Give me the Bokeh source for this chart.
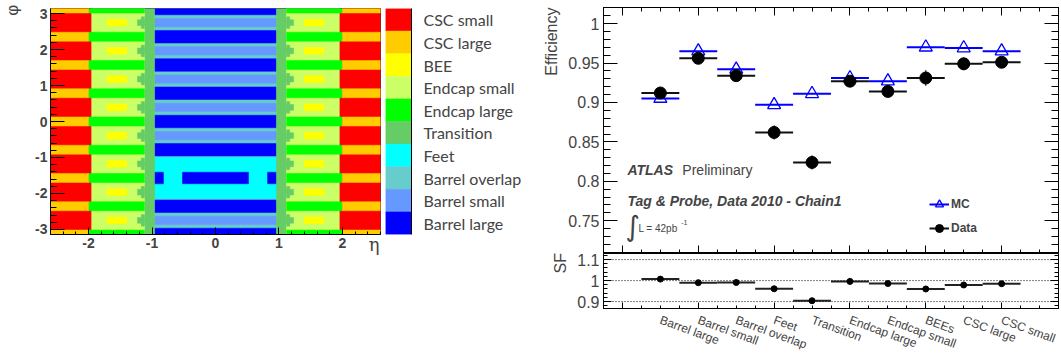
import numpy as np
from bokeh.plotting import figure
from bokeh.layouts import row, column
from bokeh.models import (ColumnDataSource, FixedTicker, LinearAxis, Range1d, Label,
                          Legend, LegendItem, Span)
from bokeh.embed import file_html
from bokeh.resources import INLINE

FONT = "Liberation Sans"
PI = np.pi
NBSP = "\u00a0"
THIN = "\u2009"
HAS_LABEL_ALIGN = "axis_label_align" in LinearAxis.properties()

# ---------------------------------------------------------------- region map
region_names = ["CSC small", "CSC large", "BEE", "Endcap small", "Endcap large",
                "Transition", "Feet", "Barrel overlap", "Barrel small", "Barrel large"]
region_colors = ["#ff0000", "#ffcc00", "#ffff00", "#ccff66", "#00ff00",
                 "#66cc66", "#00ffff", "#66cccc", "#6699ff", "#0000ff"]
col = dict(zip(region_names, region_colors))

# eta boundaries of the regions (symmetric in eta)
eta_max = 2.6
barrel_edge = 0.96
transition_edge = 1.12
transition_steps = [1.17, 1.23]
transition_step_half = [0.16, 0.08]
endcap_small_edge = 1.96
endcap_large_edge = 2.0
bee_eta = [1.40, 1.71]
feet_gap_eta = [0.52, 0.82]

# phi layout: 8 large sectors at k*pi/4, 8 small sectors in between
large_centres = np.arange(-4, 5) * PI / 4
small_centres = np.arange(-4, 4) * PI / 4 + PI / 8
barrel_large_half = 0.175
barrel_small_half = 0.115
endcap_large_half = 0.125
bee_half = 0.093
feet_centre = -PI / 2
feet_half = 0.57
feet_large_half = 0.16

quads = {"left": [], "right": [], "bottom": [], "top": [], "color": []}


def add(l, r, b, t, name, mirror=True):
    for s in ((1, -1) if mirror else (1,)):
        lo, hi = sorted((s * l, s * r))
        quads["left"].append(lo)
        quads["right"].append(hi)
        quads["bottom"].append(b)
        quads["top"].append(t)
        quads["color"].append(col[name])


# barrel
add(-barrel_edge, barrel_edge, -PI, PI, "Barrel overlap", mirror=False)
for c in large_centres:
    add(-barrel_edge, barrel_edge, c - barrel_large_half, c + barrel_large_half, "Barrel large", mirror=False)
for c in small_centres:
    add(-barrel_edge, barrel_edge, c - barrel_small_half, c + barrel_small_half, "Barrel small", mirror=False)
add(-barrel_edge, barrel_edge, feet_centre - feet_half, feet_centre + feet_half, "Feet", mirror=False)
add(-barrel_edge, -feet_gap_eta[1], feet_centre - feet_large_half, feet_centre + feet_large_half, "Barrel large")
add(-feet_gap_eta[0], feet_gap_eta[0], feet_centre - feet_large_half, feet_centre + feet_large_half,
    "Barrel large", mirror=False)

# transition, endcap, CSC
add(barrel_edge, transition_edge, -PI, PI, "Transition")
add(transition_edge, endcap_small_edge, -PI, PI, "Endcap small")
add(endcap_small_edge, eta_max, -PI, PI, "CSC small")
for c in large_centres:
    add(transition_edge, endcap_large_edge, c - endcap_large_half, c + endcap_large_half, "Endcap large")
    add(endcap_large_edge, eta_max, c - endcap_large_half, c + endcap_large_half, "CSC large")
for c in small_centres:
    add(bee_eta[0], bee_eta[1], c - bee_half, c + bee_half, "BEE")
    for edge, half in zip(transition_steps, transition_step_half):
        add(transition_edge, edge, c - half, c + half, "Transition")

heat = figure(width=385, height=361, x_range=Range1d(-eta_max, eta_max), y_range=Range1d(-PI, PI),
              output_backend="svg", toolbar_location=None,
              min_border_left=45, min_border_right=5, min_border_top=7, min_border_bottom=127)
heat.grid.visible = False
heat.outline_line_color = "#444444"
heat.quad(left="left", right="right", bottom="bottom", top="top", fill_color="color",
          line_color="color", line_width=0.5, source=ColumnDataSource(quads))


def inner_ticks(axis, major, minor):
    axis.major_tick_in = major
    axis.major_tick_out = 0
    axis.minor_tick_in = minor
    axis.minor_tick_out = 0
    axis.axis_line_color = "black"
    axis.major_tick_line_color = "black"
    axis.minor_tick_line_color = "black"


def no_labels(axis):
    axis.major_label_text_color = None
    axis.major_label_standoff = 0


def axis_title(axis, text, standoff, font=FONT, size="16px"):
    axis.axis_label = text
    axis.axis_label_standoff = standoff
    axis.axis_label_text_font = font
    axis.axis_label_text_font_size = size
    axis.axis_label_text_font_style = "normal"


eta_ticks = [-2, -1, 0, 1, 2]
phi_ticks = [-3, -2, -1, 0, 1, 2, 3]
hx = heat.xaxis[0]
hx.ticker = FixedTicker(ticks=eta_ticks, minor_ticks=[round(v, 1) for v in np.arange(-2.6, 2.61, 0.2)])
hx.major_label_overrides = {t: str(t) for t in eta_ticks}
inner_ticks(hx, 7, 3)
hy = heat.yaxis[0]
hy.ticker = FixedTicker(ticks=phi_ticks, minor_ticks=[round(v, 1) for v in np.arange(-3.0, 3.01, 0.2)])
hy.major_label_overrides = {t: str(t) for t in phi_ticks}
inner_ticks(hy, 14, 6)
for ax in (hx, hy):
    ax.major_label_text_font = FONT
    ax.major_label_text_font_size = "14px"
    ax.major_label_text_font_style = "bold"
    ax.major_label_standoff = 3
# phi title at the top end of the axis
axis_title(hy, "\u03c6" + THIN, 10, size="17px")
if HAS_LABEL_ALIGN:
    hy.axis_label_align = "end"

# eta title sits on the tick-label line, at the right end of the axis
eta_title = LinearAxis(ticker=FixedTicker(ticks=[2.5], minor_ticks=[]))
eta_title.major_label_overrides = {2.5: "\u03b7"}
eta_title.major_tick_in = 0
eta_title.major_tick_out = 0
eta_title.axis_line_color = None
eta_title.major_label_standoff = -17
eta_title.major_label_text_font = "DejaVu Serif"
eta_title.major_label_text_font_size = "18px"
heat.add_layout(eta_title, "below")

# ---------------------------------------------------------------- colour key
n_reg = len(region_names)
cbar = figure(width=155, height=361, x_range=Range1d(0, 1), y_range=Range1d(0, n_reg),
              x_axis_location=None, y_axis_location="right",
              output_backend="svg", toolbar_location=None,
              min_border_left=0, min_border_right=129, min_border_top=8, min_border_bottom=126)
cbar.grid.visible = False
cbar.outline_line_color = None
key_src = ColumnDataSource(dict(bottom=[n_reg - 1 - i for i in range(n_reg)],
                                top=[n_reg - i for i in range(n_reg)],
                                color=region_colors))
cbar.quad(left=0, right=1, bottom="bottom", top="top", fill_color="color", line_color="color",
          line_width=0.5, source=key_src)
ky = cbar.yaxis[0]
ky.ticker = FixedTicker(ticks=[n_reg - 0.5 - i for i in range(n_reg)], minor_ticks=[])
ky.major_label_overrides = {n_reg - 0.5 - i: name for i, name in enumerate(region_names)}
ky.major_tick_in = 0
ky.major_tick_out = 0
ky.major_label_standoff = 12
ky.major_label_text_font = "Lato"
ky.major_label_text_font_size = "16px"
ky.axis_line_color = "black"

# ---------------------------------------------------------------- efficiencies
categories = ["Barrel large", "Barrel small", "Barrel overlap", "Feet", "Transition",
              "Endcap large", "Endcap small", "BEEs", "CSC large", "CSC small"]
data_eff = np.array([0.912, 0.956, 0.934, 0.862, 0.824, 0.927, 0.914, 0.931, 0.949, 0.951])
data_err = np.array([0.004, 0.004, 0.005, 0.009, 0.009, 0.005, 0.006, 0.010, 0.008, 0.005])
mc_eff = np.array([0.905, 0.965, 0.942, 0.897, 0.911, 0.931, 0.927, 0.970, 0.969, 0.965])
scale_factor = np.array([1.007, 0.990, 0.991, 0.961, 0.904, 0.996, 0.986, 0.960, 0.979, 0.985])
eff_ticks = [0.75, 0.8, 0.85, 0.9, 0.95, 1.0]
sf_ticks = [0.9, 1.0, 1.1]

xpos = np.arange(1, len(categories) + 1)
src = ColumnDataSource(dict(x=xpos, lo=xpos - 0.5, hi=xpos + 0.5,
                            data=data_eff, dlo=data_eff - data_err, dhi=data_eff + data_err,
                            mc=mc_eff, sf=scale_factor))

xr = Range1d(-0.5, 11.5)
eff = figure(width=521, height=253, x_range=xr, y_range=Range1d(0.7085, 1.0204),
             output_backend="svg", toolbar_location=None,
             min_border_left=63, min_border_right=3, min_border_top=7, min_border_bottom=0)
eff.grid.visible = False
eff.outline_line_color = "black"

bin_ticks = FixedTicker(ticks=[0, 2, 4, 6, 8, 10], minor_ticks=[v * 0.5 for v in range(-1, 24)])
ey = eff.yaxis[0]
ey.ticker = FixedTicker(ticks=eff_ticks, minor_ticks=[round(v, 2) for v in np.arange(0.71, 1.021, 0.01)])
ey.major_label_overrides = {t: ("%g" % t) for t in eff_ticks}
inner_ticks(ey, 14, 7)
ey.major_label_text_font = FONT
ey.major_label_text_font_size = "16px"
ey.major_label_standoff = 4
# centred title; leading no-break spaces push the visible word to the top end
axis_title(ey, NBSP * 40 + "Efficiency", 5)
ey_r = LinearAxis(ticker=ey.ticker)
inner_ticks(ey_r, 14, 7)
no_labels(ey_r)
eff.add_layout(ey_r, "right")
ex = eff.xaxis[0]
ex.ticker = bin_ticks
inner_ticks(ex, 8, 4)
no_labels(ex)
ex_t = LinearAxis(ticker=bin_ticks)
inner_ticks(ex_t, 8, 4)
no_labels(ex_t)
eff.add_layout(ex_t, "above")

mc_bar = eff.segment(x0="lo", x1="hi", y0="mc", y1="mc", line_color="blue", line_width=2, source=src)
mc_pt = eff.scatter("x", "mc", marker="triangle", size=13, fill_color=None, line_color="blue",
                    line_width=1.3, source=src)
eff.segment(x0="x", x1="x", y0="dlo", y1="dhi", line_color="black", line_width=1, source=src)
data_bar = eff.segment(x0="lo", x1="hi", y0="data", y1="data", line_color="#111111", line_width=2,
                       source=src)
data_pt = eff.scatter("x", "data", marker="circle", size=12, fill_color="black", line_color="black",
                      source=src)

legend = Legend(items=[LegendItem(label="MC", renderers=[mc_bar, mc_pt]),
                       LegendItem(label="Data", renderers=[data_bar, data_pt])],
                location=(326, 13), orientation="vertical", background_fill_alpha=0,
                border_line_color=None, padding=0, margin=0, spacing=0,
                glyph_width=20, glyph_height=24, label_height=24, label_standoff=2,
                label_text_font=FONT, label_text_font_size="12px", label_text_font_style="bold",
                label_text_baseline="middle")
eff.add_layout(legend, "center")

eff.add_layout(Label(x=0.13, y=0.8046, text="ATLAS", text_font=FONT, text_font_size="14px",
                     text_font_style="bold italic"))
eff.add_layout(Label(x=1.58, y=0.8046, text="Preliminary", text_font=FONT, text_font_size="14px"))
eff.add_layout(Label(x=0.13, y=0.7652, text="Tag & Probe, Data 2010 - Chain1", text_font=FONT,
                     text_font_size="14px", text_font_style="bold italic"))
eff.add_layout(Label(x=0.08, y=0.7215, text="\u222b", text_font="DejaVu Sans",
                     text_font_size="28px"))
eff.add_layout(Label(x=0.42, y=0.7333, text="L = 42pb", text_font=FONT, text_font_size="10px"))
eff.add_layout(Label(x=1.55, y=0.7445, text="-1", text_font=FONT, text_font_size="7px"))

# ---------------------------------------------------------------- scale factors
sf_fig = figure(width=521, height=108, x_range=xr, y_range=Range1d(0.867, 1.129),
                output_backend="svg", toolbar_location=None,
                min_border_left=63, min_border_right=3, min_border_top=0, min_border_bottom=44)
sf_fig.grid.visible = False
sf_fig.outline_line_color = "black"
for level in sf_ticks:
    sf_fig.add_layout(Span(location=level, dimension="width", line_color="black",
                           line_width=1, line_dash="1 2"))
sf_fig.segment(x0="lo", x1="hi", y0="sf", y1="sf", line_color="#222222", line_width=2, source=src)
sf_fig.scatter("x", "sf", marker="circle", size=6, fill_color="black", line_color="black", source=src)

sy = sf_fig.yaxis[0]
sy.ticker = FixedTicker(ticks=sf_ticks, minor_ticks=[round(v, 2) for v in np.arange(0.88, 1.13, 0.02)])
sy.major_label_overrides = {t: ("%g" % t) for t in sf_ticks}
inner_ticks(sy, 8, 4)
sy.major_label_text_font = FONT
sy.major_label_text_font_size = "16px"
sy.major_label_standoff = 4
axis_title(sy, NBSP * 8 + "SF", 5)
sy_r = LinearAxis(ticker=sy.ticker)
inner_ticks(sy_r, 8, 4)
no_labels(sy_r)
sf_fig.add_layout(sy_r, "right")
sx = sf_fig.xaxis[0]
sx.ticker = bin_ticks
inner_ticks(sx, 6, 3)
no_labels(sx)
names_axis = LinearAxis(ticker=FixedTicker(ticks=list(xpos), minor_ticks=[]))
names_axis.major_label_overrides = {int(i): name for i, name in zip(xpos, categories)}
names_axis.major_label_orientation = -0.35
names_axis.major_tick_in = 0
names_axis.major_tick_out = 0
names_axis.axis_line_color = None
names_axis.major_label_standoff = 11
names_axis.major_label_text_font = FONT
names_axis.major_label_text_font_size = "12px"
sf_fig.add_layout(names_axis, "below")

page = row(heat, cbar, column(eff, sf_fig))
open("out.html", "w").write(file_html(page, INLINE))
